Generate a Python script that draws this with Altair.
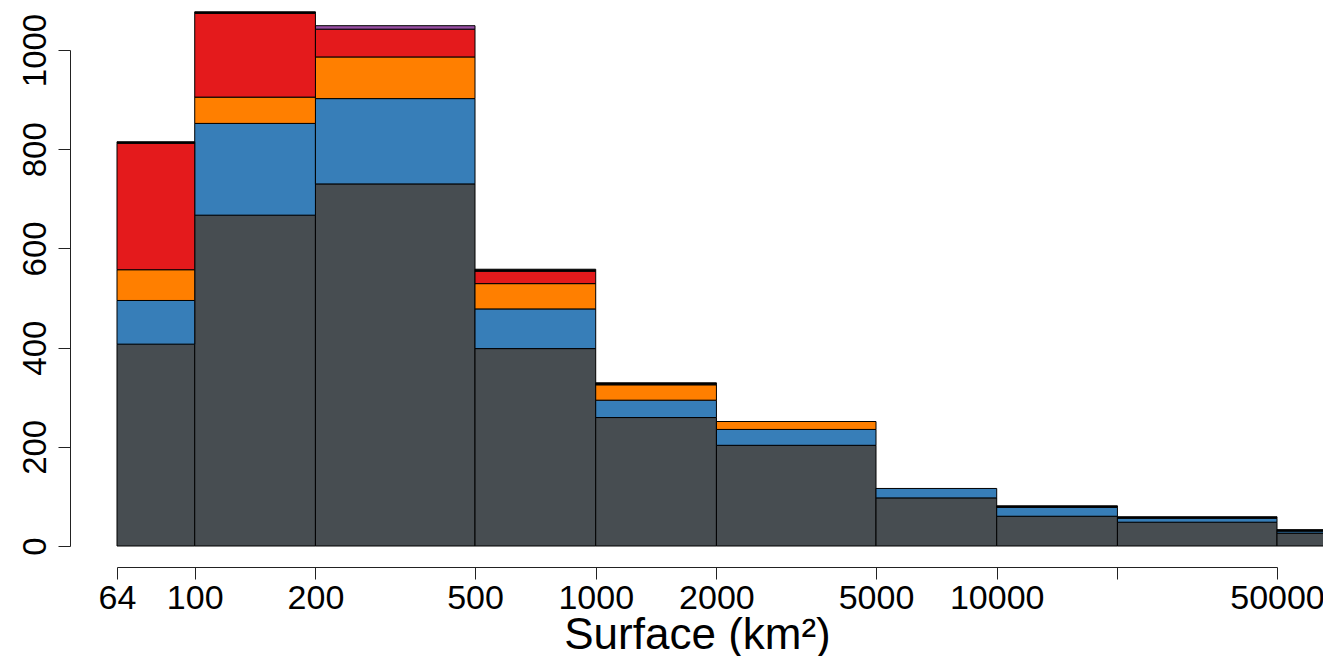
import altair as alt
import pandas as pd

# bin edges (km²)
bin_lo = [64, 100, 200, 500, 1000, 2000, 5000, 10000, 20000, 50000]
bin_hi = [100, 200, 500, 1000, 2000, 5000, 10000, 20000, 50000, 65536]

categories = ["grey", "blue", "orange", "red", "purple", "black"]
colors = ["#474d51", "#377eb8", "#ff7f00", "#e41a1c", "#984ea3", "#000000"]

grey = [407, 667, 730, 398, 259, 203, 97, 60, 48, 26]
blue = [88, 185, 172, 80, 35, 32, 19, 18, 8, 4]
orange = [62, 53, 84, 51, 31, 16, 0, 0, 0, 0]
red = [255, 169, 56, 25, 0, 0, 0, 0, 0, 0]
purple = [0, 0, 7, 0, 0, 0, 0, 0, 0, 0]
black = [3, 3, 0, 4, 4, 0, 0, 3, 3, 3]

series = [grey, blue, orange, red, purple, black]

x_ticks = [64, 100, 200, 500, 1000, 2000, 5000, 10000, 20000, 50000]
y_ticks = [0, 200, 400, 600, 800, 1000]

rows = []
for k, (cat, vals) in enumerate(zip(categories, series)):
    for lo, hi, v in zip(bin_lo, bin_hi, vals):
        if v > 0:
            rows.append({"lo": lo, "hi": hi, "cat": cat, "k": k, "n": v})
df = pd.DataFrame(rows)

FONT = "Liberation Sans"

chart = (
    alt.Chart(df)
    .transform_stack(
        stack="n", groupby=["lo"], sort=[alt.SortField("k", order="ascending")], as_=["y0", "y1"]
    )
    .mark_bar(stroke="black", strokeWidth=1, opacity=1)
    .encode(
        x=alt.X(
            "lo:Q",
            scale=alt.Scale(type="log", domain=[64, 50000], nice=False),
            axis=alt.Axis(
                values=x_ticks,
                format="d",
                labelExpr="datum.value == 20000 ? '' : datum.label",
                title="Surface (km²)",
                offset=21,
                tickSize=12,
                labelFontSize=34,
                labelPadding=2,
                titleFontSize=44,
                titleFontWeight="normal",
                titlePadding=-2,
                grid=False,
                labelFlush=False,
                labelOverlap=False,
            ),
        ),
        x2="hi:Q",
        y=alt.Y(
            "y0:Q",
            scale=alt.Scale(domain=[0, 1000], nice=False, zero=True),
            axis=alt.Axis(
                values=y_ticks,
                format="d",
                title=None,
                offset=47,
                tickSize=12,
                labelFontSize=33,
                labelAngle=-90,
                labelAlign="center",
                labelBaseline="alphabetic",
                labelPadding=13,
                grid=False,
                labelOverlap=False,
            ),
        ),
        y2="y1:Q",
        color=alt.Color(
            "cat:N",
            scale=alt.Scale(domain=categories, range=colors),
            legend=None,
        ),
    )
    .properties(
        width=1160,
        height=496,
        padding={"left": 109, "top": 42, "right": 46, "bottom": 110},
        autosize=alt.AutoSizeParams(type="none"),
    )
    .configure_view(strokeWidth=0)
    .configure_axis(
        labelFont=FONT,
        titleFont=FONT,
        labelColor="black",
        titleColor="black",
        domainColor="#222222",
        tickColor="#222222",
        domainWidth=1,
        tickWidth=1,
    )
)

chart.save("out.html", embed_options={"renderer": "svg", "actions": False})
